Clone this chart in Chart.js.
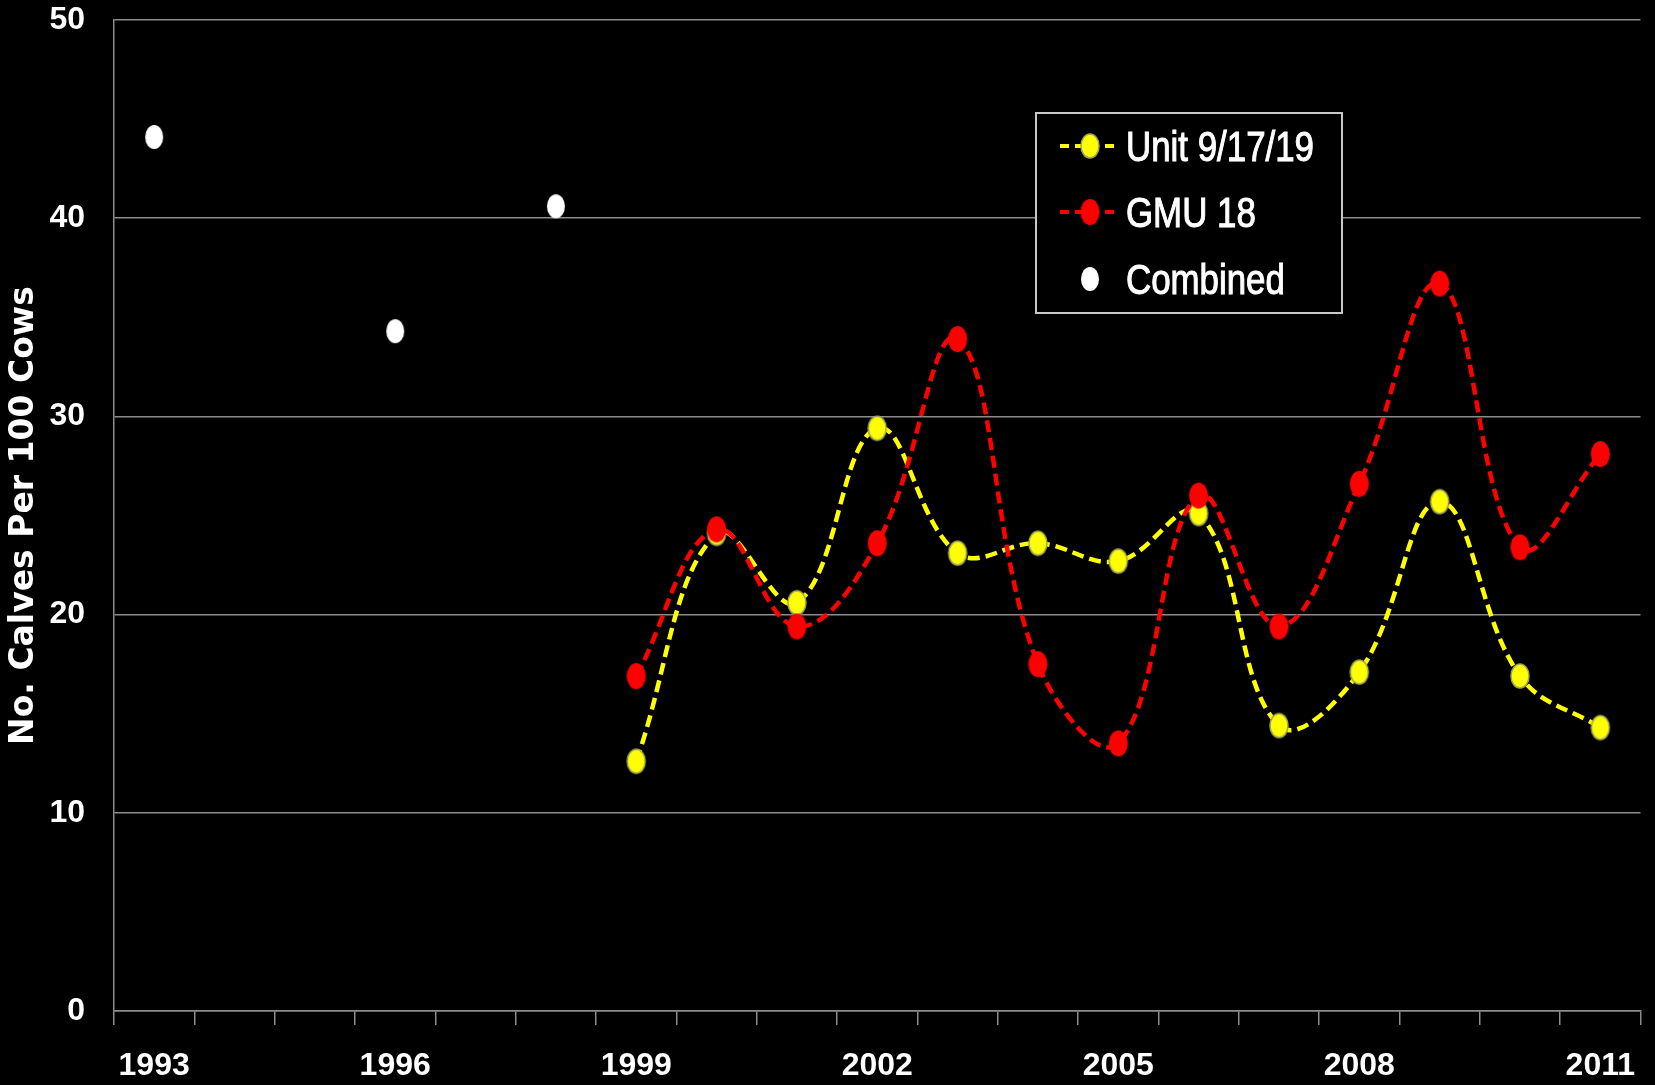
<!DOCTYPE html>
<html lang="en">
<head>
    <meta charset="utf-8"/>
    <title>Calves per 100 Cows</title>
    <script src="https://cdn.jsdelivr.net/npm/chart.js"></script>
    <style>
        body {
            margin: 0;
            background-color: #000;
        }
        #wrap {
            width: 1655px;
            height: 1085px;
        }
    </style>
</head>
<body>
    <div id="wrap"><canvas id="chart" width="1655" height="1085"></canvas></div>

    <script>
        // data
        const years = ['1993', '1994', '1995', '1996', '1997', '1998', '1999', '2000', '2001', '2002',
                       '2003', '2004', '2005', '2006', '2007', '2008', '2009', '2010', '2011'];
        const unit91719 = [null, null, null, null, null, null,
                           12.6, 24.1, 20.6, 29.4, 23.1, 23.6, 22.7, 25.1, 14.4, 17.1, 25.7, 16.9, 14.3];
        const gmu18 = [null, null, null, null, null, null,
                       16.9, 24.3, 19.4, 23.6, 33.9, 17.5, 13.5, 26.0, 19.4, 26.6, 36.7, 23.4, 28.1];
        const combined = [44.1, null, null, 34.3, null, 40.6, null, null, null, null,
                          null, null, null, null, null, null, null, null, null];
        const yTicks = [0, 10, 20, 30, 40, 50];

        const sans = "'Liberation Sans', Arial, sans-serif";

        // ellipse markers (the original is a bit stretched vertically)
        function ellipseMarker(fill, stroke, w, h) {
            const c = document.createElement('canvas');
            c.width = w + 4;
            c.height = h + 4;
            const g = c.getContext('2d');
            g.beginPath();
            g.ellipse(c.width / 2, c.height / 2, w / 2, h / 2, 0, 0, Math.PI * 2);
            g.fillStyle = fill;
            g.fill();
            if (stroke) {
                g.lineWidth = 1.5;
                g.strokeStyle = stroke;
                g.stroke();
            }
            return c;
        }
        const yellowDot = ellipseMarker('#ffff00', '#9ea45a', 18, 24);
        const redDot = ellipseMarker('#ff0000', null, 19, 26);
        const whiteDot = ellipseMarker('#ffffff', null, 18, 24);

        // legend box drawn inside the plot
        const boxLegend = {
            id: 'boxLegend',
            afterDraw(chart) {
                const ctx = chart.ctx;
                ctx.save();
                ctx.fillStyle = '#000';
                ctx.fillRect(1036, 113, 306, 200);
                ctx.strokeStyle = '#c8c8c8';
                ctx.lineWidth = 2;
                ctx.strokeRect(1036, 113, 306, 200);

                const rows = [
                    { label: 'Unit 9/17/19', color: '#ffff00', dot: yellowDot, line: true, y: 146 },
                    { label: 'GMU 18', color: '#ff0000', dot: redDot, line: true, y: 212 },
                    { label: 'Combined', color: '#ffffff', dot: whiteDot, line: false, y: 279 }
                ];
                rows.forEach(r => {
                    if (r.line) {
                        ctx.beginPath();
                        ctx.setLineDash([9, 6]);
                        ctx.lineWidth = 4;
                        ctx.strokeStyle = r.color;
                        ctx.moveTo(1060, r.y);
                        ctx.lineTo(1120, r.y);
                        ctx.stroke();
                        ctx.setLineDash([]);
                    }
                    ctx.drawImage(r.dot, 1090 - r.dot.width / 2, r.y - r.dot.height / 2);
                    // narrow text, like the original
                    ctx.save();
                    ctx.translate(1126, r.y + 15);
                    ctx.scale(0.83, 1);
                    ctx.fillStyle = '#fff';
                    ctx.strokeStyle = '#fff';
                    ctx.lineWidth = 1;
                    ctx.font = '42px ' + sans;
                    ctx.textBaseline = 'alphabetic';
                    ctx.fillText(r.label, 0, 0);
                    ctx.strokeText(r.label, 0, 0);
                    ctx.restore();
                });
                ctx.restore();
            }
        };

        new Chart(document.getElementById('chart'), {
            type: 'line',
            data: {
                labels: years,
                datasets: [
                    {
                        label: 'Unit 9/17/19',
                        data: unit91719,
                        borderColor: '#ffff00',
                        borderWidth: 4.5,
                        borderDash: [12, 6],
                        tension: 0.4,
                        pointStyle: yellowDot,
                        pointRadius: 10,
                        order: 2
                    },
                    {
                        label: 'GMU 18',
                        data: gmu18,
                        borderColor: '#ff0000',
                        borderWidth: 4.5,
                        borderDash: [12, 6],
                        tension: 0.4,
                        pointStyle: redDot,
                        pointRadius: 10,
                        order: 1
                    },
                    {
                        label: 'Combined',
                        data: combined,
                        showLine: false,
                        pointStyle: whiteDot,
                        pointRadius: 10,
                        order: 0
                    }
                ]
            },
            options: {
                responsive: false,
                animation: false,
                layout: { padding: { top: 20, right: 8, left: 0, bottom: 0 } },
                plugins: {
                    legend: { display: false },
                    tooltip: { enabled: false }
                },
                scales: {
                    x: {
                        offset: true,
                        grid: {
                            offset: true,
                            drawOnChartArea: false,
                            drawTicks: true,
                            tickLength: 14,
                            color: '#8c8c8c',
                            lineWidth: 1.5
                        },
                        border: { color: '#8c8c8c', width: 1.5 },
                        ticks: {
                            color: '#fff',
                            font: { family: sans, size: 32, weight: 'bold' },
                            padding: 22,
                            maxRotation: 0,
                            autoSkip: false,
                            callback: (v, i) => (i % 3 === 0 ? years[i] : '')
                        },
                        afterFit: s => { s.height = 74; s.paddingLeft = 0; s.paddingRight = 0; }
                    },
                    y: {
                        min: 0,
                        max: 50,
                        afterBuildTicks: s => { s.ticks = yTicks.map(v => ({ value: v })); },
                        grid: { color: '#8c8c8c', lineWidth: 1.5, drawTicks: false },
                        border: { color: '#8c8c8c', width: 1.5 },
                        ticks: {
                            color: '#fff',
                            font: { family: sans, size: 32, weight: 'bold' },
                            padding: 29
                        },
                        title: {
                            display: true,
                            text: 'No. Calves Per 100 Cows',
                            color: '#fff',
                            font: { family: "'DejaVu Sans', sans-serif", size: 33, weight: 'bold' },
                            padding: { top: 5, bottom: 0 }
                        },
                        afterFit: s => { s.width = 114; s.paddingTop = 0; s.paddingBottom = 0; }
                    }
                }
            },
            plugins: [boxLegend]
        });
    </script>
</body>
</html>
